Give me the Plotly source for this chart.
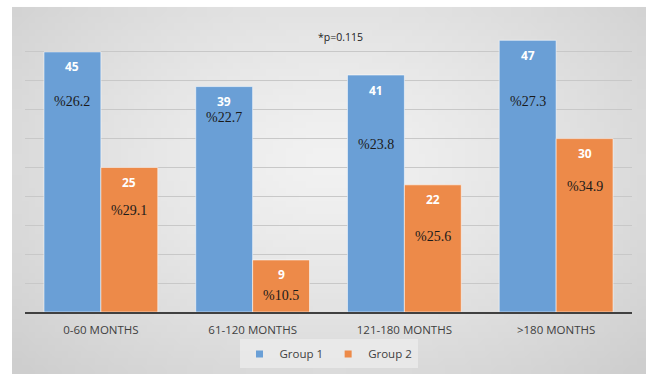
import base64, struct, zlib
import numpy as np
import plotly.graph_objects as go

# ---- data ----
categories = ["0-60 MONTHS", "61-120 MONTHS", "121-180 MONTHS", ">180 MONTHS"]
group1_counts = [45, 39, 41, 47]
group2_counts = [25, 9, 22, 30]
group1_pct = ["%26.2", "%22.7", "%23.8", "%27.3"]
group2_pct = ["%29.1", "%10.5", "%25.6", "%34.9"]
series_names = ["Group 1", "Group 2"]
p_text = "*p=0.115"

# label placement (data units on y) for percentage labels
group1_pct_y = [36.5, 33.6, 28.9, 36.5]
group2_pct_y = [17.6, 2.8, 13.0, 21.8]

BLUE = "#6a9fd6"
ORANGE = "#ed8a49"


def gradient_png(w=96, h=56):
    u = np.linspace(0, 1, w)[None, :]
    v = np.linspace(0, 1, h)[:, None]
    dx = (u - 0.5) / 0.5
    dy = (v - 0.42) / 0.58
    r = np.sqrt(dx ** 2 + dy ** 2) / np.sqrt(2)
    val = np.clip(242 - 36 * r ** 1.3, 0, 255).astype(np.uint8)
    raw = b"".join(b"\x00" + bytes(np.repeat(row, 3)) for row in val)

    def chunk(t, d):
        c = struct.pack(">I", len(d)) + t + d
        return c + struct.pack(">I", zlib.crc32(t + d) & 0xffffffff)

    png = b"\x89PNG\r\n\x1a\n"
    png += chunk(b"IHDR", struct.pack(">IIBBBBB", w, h, 8, 2, 0, 0, 0))
    png += chunk(b"IDAT", zlib.compress(raw, 9))
    png += chunk(b"IEND", b"")
    return "data:image/png;base64," + base64.b64encode(png).decode()


fig = go.Figure()
for name, vals, col in [(series_names[0], group1_counts, BLUE),
                        (series_names[1], group2_counts, ORANGE)]:
    fig.add_trace(go.Bar(
        x=categories, y=vals, name=name, marker=dict(color=col, line=dict(color="rgba(255,255,255,0.55)", width=1)),
        showlegend=False, hoverinfo="skip"))
    fig.add_trace(go.Scatter(
        x=[None], y=[None], mode="markers", name=name,
        marker=dict(symbol="square", size=7, color=col)))

bar_half = 28.5
anns = []
for i, cat in enumerate(categories):
    for vals, pcts, pys, shift in [(group1_counts, group1_pct, group1_pct_y, -bar_half),
                                   (group2_counts, group2_pct, group2_pct_y, bar_half)]:
        anns.append(dict(x=cat, y=vals[i], xref="x", yref="y", text=str(vals[i]),
                         showarrow=False, xshift=shift, yshift=-15,
                         font=dict(family="Open Sans", size=12, color="white", weight="bold")))
        anns.append(dict(x=cat, y=pys[i], xref="x", yref="y", text=pcts[i],
                         showarrow=False, xshift=shift,
                         font=dict(family="Liberation Serif", size=14, color="#1a1a1a")))
anns.append(dict(x=0.519, y=47.6, xref="paper", yref="y", text=p_text, showarrow=False,
                 font=dict(family="Open Sans", size=10.5, color="#222222")))

fig.update_layout(
    width=646, height=374,
    margin=dict(l=25, r=14, t=23, b=62, autoexpand=False),
    paper_bgcolor="white", plot_bgcolor="rgba(0,0,0,0)",
    barmode="group", bargap=0.25, bargroupgap=0,
    font=dict(family="Open Sans", size=11, color="#404040"),
    images=[dict(source=gradient_png(), xref="paper", yref="paper",
                 x=-0.0214, y=1.0554, sizex=1.0445, sizey=1.27,
                 sizing="stretch", layer="below", xanchor="left", yanchor="top")],
    xaxis=dict(showline=True, linecolor="#404040", linewidth=2, ticks="",
               tickfont=dict(family="Open Sans", size=11.5, color="#404040"),
               ticklabelstandoff=6, showgrid=False, fixedrange=True, automargin=False),
    yaxis=dict(range=[0, 50], dtick=5, showgrid=True, gridcolor="#c8c8c8", gridwidth=1,
               showticklabels=False, zeroline=False, showline=False, fixedrange=True,
               automargin=False),
    legend=dict(orientation="h", x=0.5, xanchor="center", y=-0.145, yanchor="middle",
                bgcolor="rgba(238,238,238,0.7)", font=dict(family="Open Sans", size=11.5, color="#404040"),
                itemwidth=30, tracegroupgap=0),
    annotations=anns,
    showlegend=True,
)

fig.write_html("out.html")
